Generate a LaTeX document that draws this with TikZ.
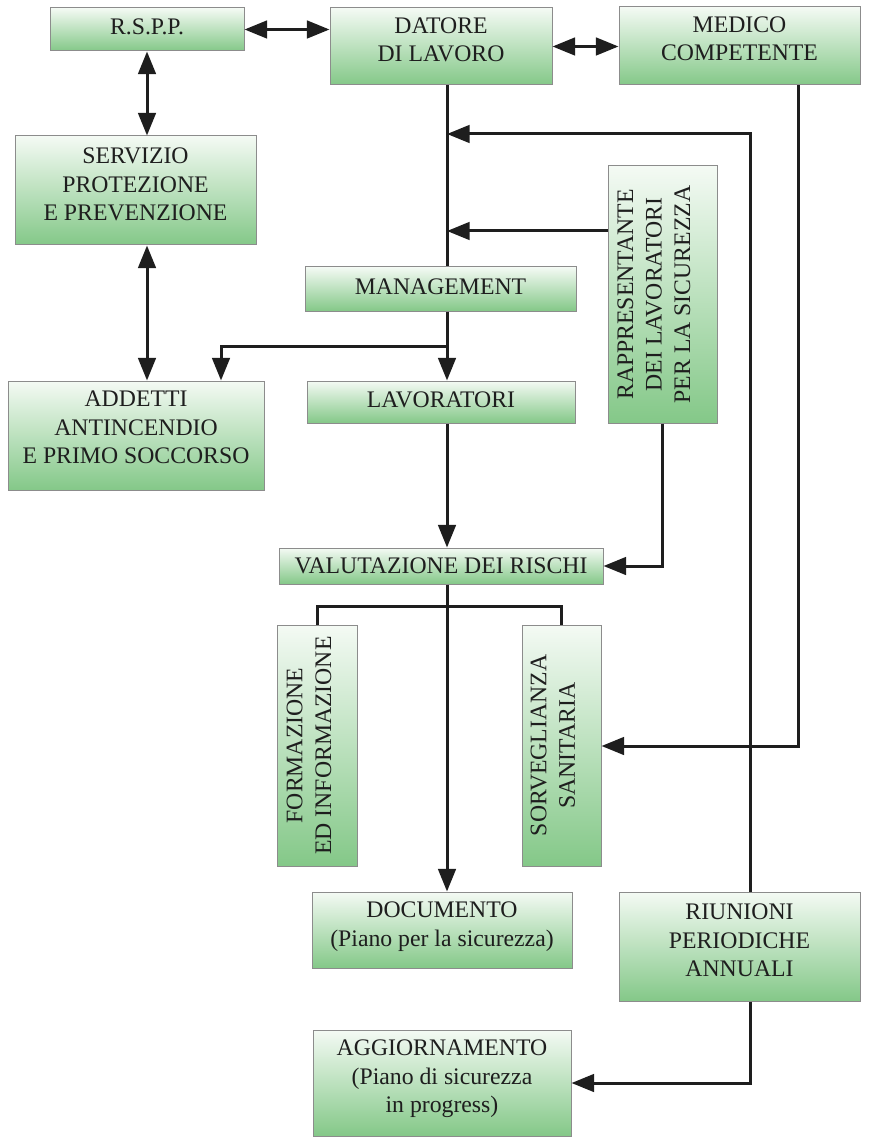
\documentclass[tikz,border=0pt]{standalone}
\usepackage{fontspec}
\setmainfont{Liberation Serif}
\usetikzlibrary{arrows.meta,fit}
\definecolor{gtop}{RGB}{244,250,244}
\definecolor{gbot}{RGB}{132,200,136}
\definecolor{edge}{RGB}{140,140,140}
\definecolor{ink}{RGB}{30,30,30}
\begin{document}
\begin{tikzpicture}[x=0.75pt,y=-0.75pt,
  box/.style={rectangle, draw=edge, line width=0.75pt, top color=gtop, bottom color=gbot, inner sep=0pt},
  lbl/.style={text=ink, align=center, inner sep=0pt, font=\fontsize{17.8pt}{21.4pt}\selectfont},
  vlbl/.style={lbl, rotate=90},
  wire/.style={draw=ink, line width=2.25pt},
  tip/.style={wire, -{Triangle[length=17pt,width=13.2pt]}},
  both/.style={wire, {Triangle[length=17pt,width=13.2pt]}-{Triangle[length=17pt,width=13.2pt]}}]
\useasboundingbox[fill=white] (0,0) rectangle (875,1137);

% boxes
\node[box, fit={(50,8) (244,51)}] (rspp) {};
\node[box, fit={(330,8) (552,85)}] (datore) {};
\node[box, fit={(619,7) (860,85)}] (medico) {};
\node[box, fit={(15,136) (256,245)}] (servizio) {};
\node[box, fit={(608,166) (717,423)}] (rapp) {};
\node[box, fit={(305,267) (576,311)}] (mgmt) {};
\node[box, fit={(307,381) (575,423)}] (lav) {};
\node[box, fit={(8,381) (264,490)}] (addetti) {};
\node[box, fit={(279,548) (603,584)}] (valut) {};
\node[box, fit={(277,625) (357,866)}] (form) {};
\node[box, fit={(522,625) (601,866)}] (sorv) {};
\node[box, fit={(312,892) (572,968)}] (doc) {};
\node[box, fit={(619,892) (860,1001)}] (riun) {};
\node[box, fit={(313,1030) (571,1136)}] (aggi) {};

% labels
\node[lbl] (rspp-t) at ([yshift=2pt]rspp.center) {R.S.P.P.};
\node[lbl] (datore-t) at ([yshift=5pt]datore.center) {DATORE\\DI LAVORO};
\node[lbl] (medico-t) at ([yshift=5.5pt]medico.center) {MEDICO\\COMPETENTE};
\node[lbl] (servizio-t) at ([yshift=4.5pt]servizio.center) {SERVIZIO\\PROTEZIONE\\E PREVENZIONE};
\node[vlbl] (rapp-t) at ([xshift=-6.5pt]rapp.center) {RAPPRESENTANTE\\DEI LAVORATORI\\PER LA SICUREZZA};
\node[lbl] (mgmt-t) at ([yshift=2pt]mgmt.center) {MANAGEMENT};
\node[lbl] (lav-t) at ([yshift=2pt]lav.center) {LAVORATORI};
\node[lbl] (addetti-t) at ([yshift=6pt]addetti.center) {ADDETTI\\ANTINCENDIO\\E PRIMO SOCCORSO};
\node[lbl] (valut-t) at (valut.center) {VALUTAZIONE DEI RISCHI};
\node[vlbl] (form-t) at ([xshift=-6pt]form.center) {FORMAZIONE\\ED INFORMAZIONE};
\node[vlbl] (sorv-t) at ([xshift=-6.5pt]sorv.center) {SORVEGLIANZA\\SANITARIA};
\node[lbl] (doc-t) at ([yshift=2.5pt]doc.center) {DOCUMENTO\\(Piano per la sicurezza)};
\node[lbl] (riun-t) at ([yshift=4.5pt]riun.center) {RIUNIONI\\PERIODICHE\\ANNUALI};
\node[lbl] (aggi-t) at ([yshift=3pt]aggi.center) {AGGIORNAMENTO\\(Piano di sicurezza\\in progress)};

% routing points
\coordinate (spine) at (447,0);
\coordinate (loop) at (750,134);
\coordinate (rin) at (447,231);
\coordinate (br) at (447,346);
\coordinate (brL) at (221,346);
\coordinate (fb) at (0,606);
\coordinate (mx) at (798,746);
\coordinate (ag) at (750,1083);

% connectors
\draw[both] (rspp.east) -- (rspp.east -| datore.west);
\draw[both] (datore.east) -- (datore.east -| medico.west);
\draw[both] (rspp.south) -- (rspp.south |- servizio.north);
\draw[both] (servizio.south -| rspp.south) -- (addetti.north -| rspp.south);
\draw[wire] (datore.south -| spine) -- (mgmt.north -| spine);
\draw[tip] (riun.north -| loop) -- (loop) -- (loop -| spine);
\draw[tip] (rin -| rapp.west) -- (rin);
\draw[tip] (mgmt.south -| spine) -- (lav.north -| spine);
\draw[tip] (br) -- (brL) -- (brL |- addetti.north);
\draw[tip] (lav.south -| spine) -- (valut.north -| spine);
\draw[tip] (rapp.south) -- (rapp.south |- valut.east) -- (valut.east);
\draw[tip] (valut.south -| spine) -- (doc.north -| spine);
\draw[wire] (form.north) -- (form.north |- fb) -- (sorv.north |- fb) -- (sorv.north);
\draw[tip] (medico.south -| mx) -- (mx) -- (mx -| sorv.east);
\draw[tip] (riun.south -| ag) -- (ag) -- (ag -| aggi.east);
\end{tikzpicture}
\end{document}
